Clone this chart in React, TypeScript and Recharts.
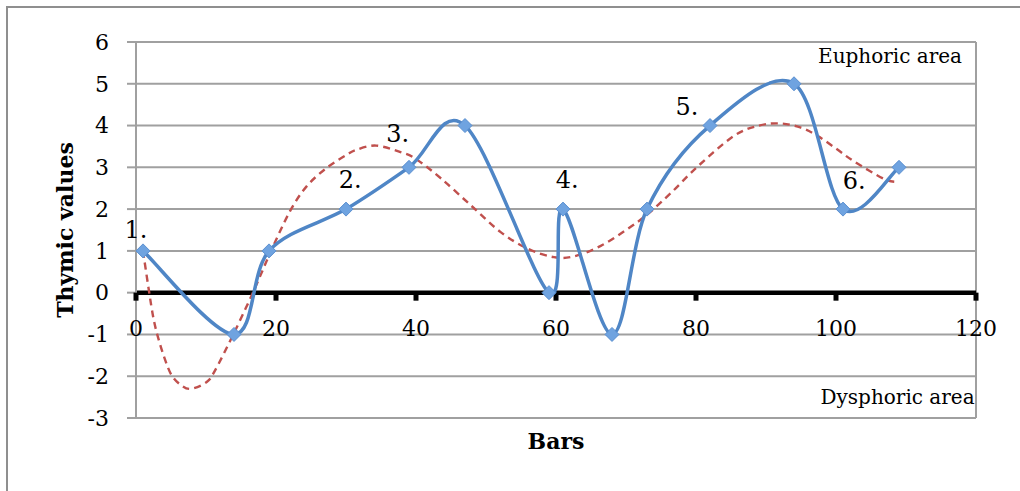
import React from "react";
import {
  LineChart,
  Line,
  XAxis,
  YAxis,
  CartesianGrid,
  ReferenceLine,
  ReferenceDot,
} from "recharts";

// thymic curve
const barX = [1, 14, 19, 30, 39, 47, 59, 61, 68, 73, 82, 94, 101, 109];
const thymic = [1, -1, 1, 2, 3, 4, 0, 2, -1, 2, 4, 5, 2, 3];

// dashed trend line, sampled along the drawn curve
const trendX = [
  1, 1.8, 2.5, 3.2, 4.1, 5.1, 6.5, 7.9, 10.1, 11.3, 13.9, 16.7, 19.3, 22, 24.4,
  27.2, 30.1, 31.5, 34.3, 37.9, 40, 43.6, 47.9, 52.1, 56, 59.7, 62.6, 66.4, 70,
  73.1, 76.5, 80.3, 85.4, 89, 92.1, 95, 97.4, 100, 102.6, 106.9, 108.9,
];
const trendY = [
  1, 0.1, -0.62, -1.1, -1.58, -1.98, -2.22, -2.3, -2.14, -1.86, -1.0, 0, 1.0,
  1.95, 2.55, 2.98, 3.3, 3.42, 3.52, 3.36, 3.2, 2.73, 2.08, 1.45, 1.05, 0.85,
  0.87, 1.12, 1.5, 1.88, 2.4, 3.03, 3.75, 4.0, 4.05, 3.95, 3.75, 3.45, 3.14,
  2.72, 2.65,
];

const xTicks = [0, 20, 40, 60, 80, 100, 120];
const yTicks = [-3, -2, -1, 0, 1, 2, 3, 4, 5, 6];

const phaseLabels = ["1.", "2.", "3.", "4.", "5.", "6."];
const phaseX = [0, 30.6, 37.4, 61.6, 78.7, 102.6];
const phaseY = [1.5, 2.7, 3.8, 2.7, 4.45, 2.68];

const areaLabels = ["Euphoric area", "Dysphoric area"];
const areaX = [118, 119.8];
const areaY = [5.67, -2.49];

const bluePoints = barX.map((x, i) => ({ x, y: thymic[i] }));
const trendPoints = trendX.map((x, i) => ({ x, y: trendY[i] }));

const FONT = "'DejaVu Serif', serif";

// Excel style smoothing (Catmull-Rom through every point)
const excelSmooth = (context: any) => {
  let pts: number[][] = [];
  return {
    areaStart() {},
    areaEnd() {},
    lineStart() {
      pts = [];
    },
    point(x: number, y: number) {
      pts.push([+x, +y]);
    },
    lineEnd() {
      const n = pts.length;
      if (!n) return;
      context.moveTo(pts[0][0], pts[0][1]);
      for (let i = 0; i < n - 1; i++) {
        const p0 = pts[Math.max(0, i - 1)];
        const p1 = pts[i];
        const p2 = pts[i + 1];
        const p3 = pts[Math.min(n - 1, i + 2)];
        context.bezierCurveTo(
          p1[0] + (p2[0] - p0[0]) / 6,
          p1[1] + (p2[1] - p0[1]) / 6,
          p2[0] - (p3[0] - p1[0]) / 6,
          p2[1] - (p3[1] - p1[1]) / 6,
          p2[0],
          p2[1]
        );
      }
    },
  };
};

const Diamond = ({ cx, cy }: any) => {
  if (cx == null || cy == null) return null;
  const r = 7;
  return (
    <polygon
      points={`${cx},${cy - r} ${cx + r},${cy} ${cx},${cy + r} ${cx - r},${cy}`}
      fill="#6FA3E0"
      stroke="#5A8FD0"
      strokeWidth={1}
    />
  );
};

const yLabel = (props: any) => {
  const vb = props.viewBox;
  const cx = vb.x - 11;
  const cy = vb.y + vb.height / 2;
  return (
    <text
      x={cx}
      y={cy}
      transform={`rotate(-90 ${cx} ${cy})`}
      textAnchor="middle"
      dominantBaseline="central"
      fontFamily={FONT}
      fontWeight="bold"
      fontSize={22}
      fill="#000"
    >
      Thymic values
    </text>
  );
};

const xLabel = (props: any) => {
  const vb = props.viewBox;
  return (
    <text
      x={vb.x + vb.width / 2}
      y={vb.y + 31}
      textAnchor="middle"
      fontFamily={FONT}
      fontWeight="bold"
      fontSize={22}
      fill="#000"
    >
      Bars
    </text>
  );
};

export default function App() {
  return (
    <div
      style={{
        position: "fixed",
        left: 6,
        top: 6,
        width: 1012,
        height: 483,
        borderTop: "2px solid #8F8F8F",
        borderLeft: "2px solid #8F8F8F",
        background: "#fff",
      }}
    >
      <LineChart
        width={1012}
        height={483}
        margin={{ top: 34, right: 44, left: 68, bottom: 43 }}
      >
        <CartesianGrid stroke="#A0A0A0" strokeWidth={2} />
        <XAxis
          dataKey="x"
          type="number"
          domain={[0, 120]}
          ticks={xTicks}
          tick={false}
          axisLine={false}
          tickLine={false}
          height={30}
          label={xLabel}
        />
        <YAxis
          type="number"
          domain={[-3, 6]}
          ticks={yTicks}
          interval={0}
          width={60}
          axisLine={{ stroke: "#A0A0A0", strokeWidth: 2 }}
          tickLine={{ stroke: "#A0A0A0", strokeWidth: 2 }}
          tickSize={9}
          tickMargin={18}
          tick={{ fontFamily: FONT, fontSize: 22, fill: "#000" }}
          label={yLabel}
        />
        <ReferenceLine y={0} stroke="#000" strokeWidth={4.5} />
        {xTicks.map((t) => (
          <ReferenceDot
            key={"xt" + t}
            x={t}
            y={0}
            r={0}
            ifOverflow="visible"
            shape={(p: any) => (
              <g>
                <rect x={p.cx - 2.5} y={p.cy} width={5} height={8} fill="#000" />
                <text
                  x={p.cx}
                  y={p.cy + 43}
                  textAnchor="middle"
                  fontFamily={FONT}
                  fontSize={22}
                  fill="#000"
                >
                  {t}
                </text>
              </g>
            )}
          />
        ))}
        <Line
          data={trendPoints}
          dataKey="y"
          type={excelSmooth as any}
          stroke="#C0504D"
          strokeWidth={2.4}
          strokeDasharray="7 5"
          dot={false}
          activeDot={false}
          isAnimationActive={false}
        />
        <Line
          data={bluePoints}
          dataKey="y"
          type={excelSmooth as any}
          stroke="#4F86C6"
          strokeWidth={3.5}
          dot={<Diamond />}
          activeDot={false}
          isAnimationActive={false}
        />
        {phaseLabels.map((s, i) => (
          <ReferenceDot
            key={s}
            x={phaseX[i]}
            y={phaseY[i]}
            r={0}
            ifOverflow="visible"
            shape={(p: any) => (
              <text
                x={p.cx}
                y={p.cy}
                textAnchor="middle"
                dominantBaseline="central"
                fontFamily={FONT}
                fontSize={24}
                fill="#000"
              >
                {s}
              </text>
            )}
          />
        ))}
        {areaLabels.map((s, i) => (
          <ReferenceDot
            key={s}
            x={areaX[i]}
            y={areaY[i]}
            r={0}
            ifOverflow="visible"
            shape={(p: any) => (
              <text
                x={p.cx}
                y={p.cy}
                textAnchor="end"
                dominantBaseline="central"
                fontFamily={FONT}
                fontSize={20}
                fill="#000"
              >
                {s}
              </text>
            )}
          />
        ))}
      </LineChart>
    </div>
  );
}
